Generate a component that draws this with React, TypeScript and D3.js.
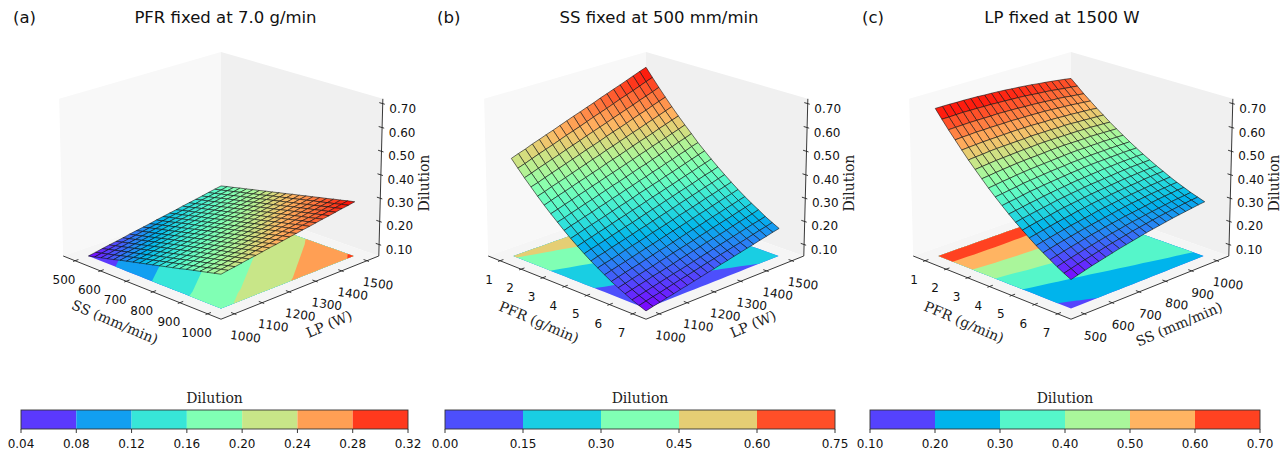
import React from 'react';
import * as d3 from 'd3';

// Dilution, in thousandths, rows along the first axis, 21 x 21
const dilutionA = [
  [50,55,61,66,71,76,82,87,92,97,103,108,113,118,124,129,134,139,145,150,155],
  [57,62,68,73,78,83,88,94,99,104,109,115,120,125,130,135,141,146,151,156,162],
  [64,69,75,80,85,90,95,101,106,111,116,121,126,132,137,142,147,152,158,163,168],
  [71,76,82,87,92,97,102,107,113,118,123,128,133,138,144,149,154,159,164,169,175],
  [78,84,89,94,99,104,109,114,119,125,130,135,140,145,150,155,160,166,171,176,181],
  [86,91,96,101,106,111,116,121,126,131,137,142,147,152,157,162,167,172,177,182,188],
  [93,98,103,108,113,118,123,128,133,138,143,148,153,159,164,169,174,179,184,189,194],
  [100,105,110,115,120,125,130,135,140,145,150,155,160,165,170,175,180,185,190,195,201],
  [107,112,117,122,127,132,137,142,147,152,157,162,167,172,177,182,187,192,197,202,207],
  [114,119,124,129,134,139,144,149,154,159,164,169,174,179,184,189,194,199,204,209,214],
  [121,126,131,136,141,146,151,156,161,166,171,175,180,185,190,195,200,205,210,215,220],
  [128,133,138,143,148,153,158,163,167,172,177,182,187,192,197,202,207,212,217,222,227],
  [135,140,145,150,155,160,165,169,174,179,184,189,194,199,204,209,213,218,223,228,233],
  [142,147,152,157,162,167,171,176,181,186,191,196,201,205,210,215,220,225,230,235,240],
  [149,154,159,164,169,174,178,183,188,193,198,203,207,212,217,222,227,232,236,241,246],
  [157,161,166,171,176,181,185,190,195,200,205,209,214,219,224,229,233,238,243,248,253],
  [164,168,173,178,183,187,192,197,202,207,211,216,221,226,230,235,240,245,249,254,259],
  [171,175,180,185,190,194,199,204,209,213,218,223,228,232,237,242,247,251,256,261,266],
  [178,183,187,192,197,201,206,211,215,220,225,230,234,239,244,248,253,258,263,267,272],
  [185,190,194,199,204,208,213,218,222,227,232,236,241,246,250,255,260,264,269,274,279],
  [192,197,201,206,211,215,220,225,229,234,239,243,248,252,257,262,266,271,276,280,285],
];

const dilutionB = [
  [470,481,491,503,513,524,534,545,556,567,577,588,598,610,620,631,641,652,663,674,684],
  [438,448,459,470,480,490,501,512,522,532,543,554,564,574,585,596,606,616,627,638,648],
  [407,417,428,438,448,458,469,479,489,500,510,520,530,541,551,561,571,582,592,602,613],
  [378,387,398,408,418,428,438,448,459,468,478,489,499,508,518,529,539,548,559,569,579],
  [349,358,369,378,388,398,408,418,428,437,448,457,467,477,487,496,507,516,526,536,546],
  [321,331,341,350,360,370,379,389,398,409,418,427,437,447,457,466,475,486,495,505,514],
  [295,304,314,323,333,342,352,361,371,380,389,399,408,418,427,437,446,455,465,474,484],
  [270,278,288,297,307,315,325,334,344,352,362,371,381,389,399,408,418,426,436,445,455],
  [245,255,263,273,281,291,299,309,317,327,335,345,353,363,371,381,389,399,407,417,425],
  [222,231,240,249,257,266,275,284,292,301,311,319,328,336,346,354,363,372,381,390,398],
  [200,209,217,226,234,243,252,260,269,277,286,295,303,312,320,329,338,346,355,363,372],
  [179,188,196,204,213,221,230,237,246,255,263,271,280,288,297,305,313,322,331,338,347],
  [159,168,175,184,192,200,208,217,224,233,241,249,257,266,274,282,290,299,306,315,323],
  [141,149,156,164,173,181,188,196,205,212,220,228,237,244,252,260,269,276,284,292,300],
  [123,131,139,146,154,162,170,177,185,193,201,208,216,224,232,239,247,255,263,270,278],
  [106,114,122,129,136,144,152,160,166,174,182,190,197,204,212,220,227,235,242,250,257],
  [91,98,106,113,120,127,135,142,150,157,164,171,179,186,194,201,208,215,223,230,238],
  [77,84,91,98,106,112,119,126,134,141,148,155,163,169,176,183,191,198,205,212,220],
  [63,70,77,84,91,98,105,111,118,125,132,139,146,153,160,167,174,181,188,194,201],
  [51,58,65,71,78,85,92,98,105,112,119,125,132,138,145,151,158,165,172,178,185],
  [40,47,53,60,66,73,79,86,92,99,105,112,118,125,131,138,144,151,157,164,170],
];

const dilutionC = [
  [680,680,680,679,679,678,677,675,674,672,670,667,665,662,659,655,652,648,644,640,635],
  [644,644,645,646,645,645,644,644,642,641,639,638,636,633,630,628,625,621,617,614,610],
  [609,610,611,612,612,612,612,613,612,611,610,608,607,605,603,600,599,596,592,589,585],
  [576,578,579,581,581,582,582,582,583,582,582,581,580,579,577,575,573,571,568,565,562],
  [543,545,547,549,550,551,552,553,554,554,554,553,552,552,551,549,548,546,544,542,539],
  [511,514,516,519,521,522,523,524,525,527,527,527,527,526,527,526,524,523,521,520,518],
  [481,484,487,490,492,494,496,498,499,501,502,502,502,502,502,502,501,501,499,498,496],
  [452,455,459,462,465,468,470,472,473,475,477,478,479,479,479,479,480,479,478,477,476],
  [423,427,431,434,438,441,444,446,448,450,452,454,456,457,457,458,458,459,458,458,457],
  [396,400,404,408,413,416,419,422,425,427,429,432,433,435,436,437,437,438,438,438,438],
  [370,375,379,384,389,392,396,399,402,405,408,410,413,415,416,417,418,419,420,420,420],
  [345,350,355,360,364,369,373,377,380,384,387,389,392,394,397,398,400,401,402,403,403],
  [321,327,332,337,342,347,352,356,360,363,367,370,372,375,377,380,382,384,385,386,387],
  [299,305,311,316,321,327,332,336,340,344,348,351,354,357,360,363,365,367,369,370,371],
  [277,283,289,295,301,306,311,317,321,326,330,333,337,340,343,346,348,352,354,356,357],
  [256,263,269,275,281,287,292,297,302,308,312,316,320,324,327,330,333,336,338,340,342],
  [237,244,251,257,263,269,275,280,285,290,295,300,305,309,312,316,319,322,324,327,329],
  [219,226,233,240,246,253,259,264,270,275,280,285,289,293,297,302,306,309,312,315,317],
  [201,209,216,223,230,236,243,249,255,260,266,271,275,280,284,288,292,296,299,302,305],
  [185,193,201,208,215,222,229,235,241,247,253,258,263,268,273,277,281,285,289,292,295],
  [170,178,186,194,201,208,215,222,228,234,240,246,251,256,261,266,270,274,278,282,285],
];

const ssTicks = [500, 600, 700, 800, 900, 1000];
const lpTicks = [1000, 1100, 1200, 1300, 1400, 1500];
const pfrTicks = [1, 2, 3, 4, 5, 6, 7];
const zTicks = [0.1, 0.2, 0.3, 0.4, 0.5, 0.6, 0.7];

const levelsA = [0.04, 0.08, 0.12, 0.16, 0.2, 0.24, 0.28, 0.32];
const levelsB = [0, 0.15, 0.3, 0.45, 0.6, 0.75];
const levelsC = [0.1, 0.2, 0.3, 0.4, 0.5, 0.6, 0.7];

const sans = '"DejaVu Sans", sans-serif';
const serif = '"DejaVu Serif", serif';
const tickColor = '#222';

// camera for the mplot3d style box, unit cube squashed in height
const elev = (20 * Math.PI) / 180;
const dist = 10;
const scale = 226;
const centerX = 221;
const centerY = 178.4;
const boxHeight = 0.74;

const project = (u: number, v: number, w: number): [number, number] => {
  const a = u - 0.5;
  const b = v - 0.5;
  const c = (w - 0.5) * boxHeight;
  const r = (a + b) / Math.SQRT2;
  const d = (a - b) / Math.SQRT2;
  const yc = c * Math.cos(elev) - d * Math.sin(elev);
  const zc = c * Math.sin(elev) + d * Math.cos(elev);
  const f = dist / (dist - zc);
  return [centerX + scale * r * f, centerY - scale * yc * f];
};

const depth = (u: number, v: number, w: number) =>
  (w - 0.5) * boxHeight * Math.sin(elev) + ((u - v) / Math.SQRT2) * Math.cos(elev);

// matplotlib's rainbow colormap
const rainbow = (t: number) => {
  const r = Math.abs(2 * t - 0.5);
  const g = Math.sin(Math.PI * t);
  const b = Math.cos((Math.PI * t) / 2);
  return d3.rgb(255 * Math.min(r, 1), 255 * g, 255 * b).formatRgb();
};

const axisRange: [number, number] = [0.08, 0.92];
const zScale = d3.scaleLinear().domain([0.05, 0.72]).range([0, 1]);
const gridScale = d3.scaleLinear().domain([0, 20]).range(axisRange);
const contourScale = d3.scaleLinear().domain([0.5, 20.5]).range(axisRange).clamp(true);
const poly = d3.line();
const fmt2 = d3.format('.2f');

type PanelProps = {
  left: number;
  tag: string;
  tagX: number;
  title: string;
  titleX: number;
  grid: number[][];
  uTicks: number[];
  vTicks: number[];
  uLabel: string;
  vLabel: string;
  uLabelX: number;
  vLabelX: number;
  levels: number[];
};

const Panel = ({ left, tag, tagX, title, titleX, grid, uTicks, vTicks, uLabel, vLabel, uLabelX, vLabelX, levels }: PanelProps) => {
  const uScale = d3.scaleLinear().domain(d3.extent(uTicks) as [number, number]).range(axisRange);
  const vScale = d3.scaleLinear().domain(d3.extent(vTicks) as [number, number]).range(axisRange);
  const values = grid.flat().map(d => d / 1000);
  const [zMin, zMax] = d3.extent(values) as [number, number];
  const color = d3.scaleLinear().domain([zMin, zMax]).range([0, 1]);

  const bands = d3.contours().size([21, 21]).thresholds(levels.slice(0, -1))(values);
  const bandPaths = bands.map(band =>
    band.coordinates
      .flat()
      .map(ring => poly(ring.map(p => project(contourScale(p[1]), contourScale(p[0]), 0) as [number, number])))
      .join(' '),
  );

  const cells = d3
    .cross(d3.range(20), d3.range(20))
    .map(([i, j]) => {
      const corners = [
        [i, j],
        [i + 1, j],
        [i + 1, j + 1],
        [i, j + 1],
      ];
      const zs = corners.map(([a, b]) => grid[a][b] / 1000);
      const mean = d3.mean(zs) as number;
      return {
        key: `${i}-${j}`,
        d: poly(corners.map(([a, b]) => project(gridScale(a), gridScale(b), zScale(grid[a][b] / 1000)))) + 'Z',
        fill: rainbow(color(mean)),
        depth: depth(gridScale(i + 0.5), gridScale(j + 0.5), zScale(mean)),
      };
    })
    .sort((a, b) => a.depth - b.depth);

  const pane = (pts: number[][]) => poly(pts.map(p => project(p[0], p[1], p[2]))) + 'Z';

  return (
    <g transform={`translate(${left},0)`}>
      <text x={tagX} y={23} fontFamily={sans} fontSize={16.5} fill="#111">{tag}</text>
      <text x={titleX} y={23} fontFamily={sans} fontSize={16.5} textAnchor="middle" fill="#111">{title}</text>

      <path d={pane([[0, 0, 0], [0, 1, 0], [0, 1, 1], [0, 0, 1]])} fill="#f8f8f8" />
      <path d={pane([[0, 1, 0], [1, 1, 0], [1, 1, 1], [0, 1, 1]])} fill="#f0f0f0" />
      <path d={pane([[0, 0, 0], [1, 0, 0], [1, 1, 0], [0, 1, 0]])} fill="#f5f5f5" />

      <path d={poly([project(0, 0, 0), project(1, 0, 0), project(1, 1, 0)]) as string} fill="none" stroke={tickColor} strokeWidth={0.9} />
      <path d={poly([project(1, 1, 0), project(1, 1, 1)]) as string} fill="none" stroke={tickColor} strokeWidth={0.9} />

      {uTicks.map(t => {
        const [x, y] = project(uScale(t), 0, 0);
        return (
          <g key={t}>
            <path d={poly([project(uScale(t), -0.012, 0), project(uScale(t), 0.02, 0)]) as string} stroke={tickColor} strokeWidth={0.9} />
            <text x={x - 11} y={y + 19} fontFamily={sans} fontSize={12} textAnchor="middle" dominantBaseline="central" fill="#111">{t}</text>
          </g>
        );
      })}
      {vTicks.map(t => {
        const [x, y] = project(1, vScale(t), 0);
        return (
          <g key={t}>
            <path d={poly([project(1.012, vScale(t), 0), project(0.98, vScale(t), 0)]) as string} stroke={tickColor} strokeWidth={0.9} />
            <text transform={`translate(${x + 11},${y + 23}) rotate(8)`} fontFamily={sans} fontSize={12} textAnchor="middle" dominantBaseline="central" fill="#111">{t}</text>
          </g>
        );
      })}
      {zTicks.map(t => {
        const [x, y] = project(1, 1, zScale(t));
        return (
          <g key={t}>
            <path d={poly([project(1.012, 1, zScale(t)), project(0.98, 1, zScale(t))]) as string} stroke={tickColor} strokeWidth={0.9} />
            <text x={x + 20} y={y + 5} fontFamily={sans} fontSize={12} textAnchor="middle" dominantBaseline="central" fill="#111">{fmt2(t)}</text>
          </g>
        );
      })}

      <text transform={`translate(${uLabelX},322) rotate(23)`} fontFamily={serif} fontSize={14} textAnchor="middle" dominantBaseline="central" fill="#222">{uLabel}</text>
      <text transform={`translate(${vLabelX},324) rotate(-23)`} fontFamily={serif} fontSize={14} textAnchor="middle" dominantBaseline="central" fill="#222">{vLabel}</text>
      <text transform="translate(424,183) rotate(-90)" fontFamily={serif} fontSize={14} textAnchor="middle" dominantBaseline="central" fill="#222">Dilution</text>

      {bandPaths.map((d, k) => (
        <path key={k} d={d} fill={rainbow((k + 0.5) / (levels.length - 1))} fillRule="evenodd" />
      ))}
      {cells.map(c => (
        <path key={c.key} d={c.d} fill={c.fill} stroke="#111" strokeOpacity={0.85} strokeWidth={0.7} />
      ))}
    </g>
  );
};

const ColorBar = ({ x0, x1, levels }: { x0: number; x1: number; levels: number[] }) => {
  const x = d3.scaleLinear().domain(d3.extent(levels) as [number, number]).range([x0, x1]);
  const n = levels.length - 1;
  return (
    <g>
      <text x={(x0 + x1) / 2} y={398} fontFamily={serif} fontSize={14} textAnchor="middle" dominantBaseline="central" fill="#222">Dilution</text>
      {d3.range(n).map(k => (
        <rect key={k} x={x(levels[k])} y={410} width={x(levels[k + 1]) - x(levels[k])} height={19} fill={rainbow((k + 0.5) / n)} />
      ))}
      <rect x={x0} y={410} width={x1 - x0} height={19} fill="none" stroke="#333" strokeWidth={0.9} />
      {levels.map(l => (
        <g key={l}>
          <line x1={x(l)} x2={x(l)} y1={429} y2={433} stroke="#222" strokeWidth={0.9} />
          <text x={x(l)} y={444} fontFamily={sans} fontSize={12} textAnchor="middle" dominantBaseline="central" fill="#111">{fmt2(l)}</text>
        </g>
      ))}
    </g>
  );
};

export default function App() {
  return (
    <svg width={1288} height={452} style={{ position: 'absolute', left: 0, top: 0, display: 'block', background: '#fff' }}>
      <Panel left={0} tag="(a)" tagX={13} title="PFR fixed at 7.0 g/min" titleX={225.5} grid={dilutionA}
        uTicks={ssTicks} vTicks={lpTicks} uLabel="SS (mm/min)" vLabel="LP (W)" uLabelX={115} vLabelX={329} levels={levelsA} />
      <Panel left={425} tag="(b)" tagX={12} title="SS fixed at 500 mm/min" titleX={234} grid={dilutionB}
        uTicks={pfrTicks} vTicks={lpTicks} uLabel="PFR (g/min)" vLabel="LP (W)" uLabelX={114} vLabelX={328} levels={levelsB} />
      <Panel left={850} tag="(c)" tagX={12} title="LP fixed at 1500 W" titleX={212} grid={dilutionC}
        uTicks={pfrTicks} vTicks={ssTicks} uLabel="PFR (g/min)" vLabel="SS (mm/min)" uLabelX={114} vLabelX={329} levels={levelsC} />
      <ColorBar x0={21} x1={408} levels={levelsA} />
      <ColorBar x0={445} x1={835} levels={levelsB} />
      <ColorBar x0={870} x1={1260} levels={levelsC} />
    </svg>
  );
}
